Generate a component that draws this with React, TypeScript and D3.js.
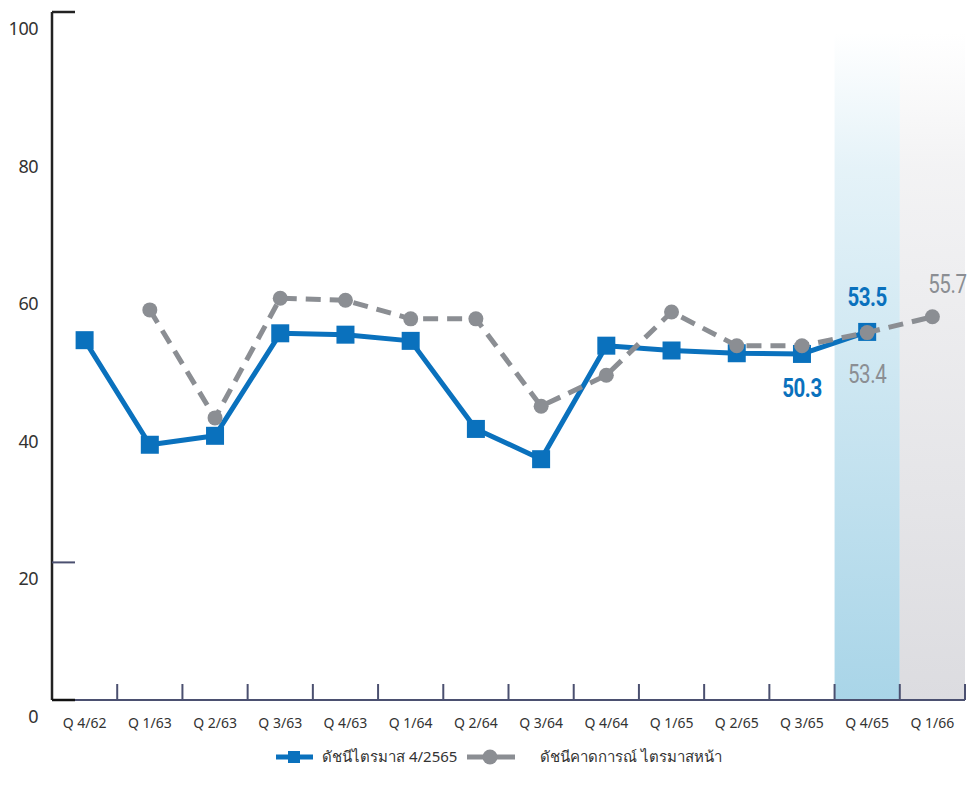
import * as d3 from 'd3';

const QUARTERS = ['Q 4/62', 'Q 1/63', 'Q 2/63', 'Q 3/63', 'Q 4/63', 'Q 1/64', 'Q 2/64', 'Q 3/64', 'Q 4/64', 'Q 1/65', 'Q 2/65', 'Q 3/65', 'Q 4/65', 'Q 1/66'];
// ดัชนีไตรมาส (actual)
const ACTUAL: (number | null)[] = [52.3, 37.1, 38.4, 53.3, 53.1, 52.2, 39.4, 35.0, 51.5, 50.8, 50.4, 50.3, 53.5, null];
// ดัชนีคาดการณ์ ไตรมาสหน้า (expected)
const EXPECTED: (number | null)[] = [null, 56.7, 41.0, 58.4, 58.1, 55.4, 55.4, 42.7, 47.2, 56.4, 51.5, 51.5, 53.4, 55.7];
const Y_TICKS = [0, 20, 40, 60, 80, 100];
const LEGEND = ['ดัชนีไตรมาส 4/2565', 'ดัชนีคาดการณ์ ไตรมาสหน้า'];

const W = 967, H = 795;
const BLUE = '#0a71bd';
const GRAY = '#8b8e93';
const AXIS = '#4b5070';
const NUM_FONT = "'Liberation Sans Narrow', 'Roboto', sans-serif";

export default function App() {
  const x = d3.scaleBand().domain(QUARTERS).range([52, 965]).padding(0);
  const y = d3.scaleLinear().domain([0, 100]).range([700, 12]);
  const cx = (q: string) => (x(q) ?? 0) + x.bandwidth() / 2;

  const actualPts = QUARTERS.map((q, i) => ({ q, v: ACTUAL[i] })).filter((d) => d.v !== null) as { q: string; v: number }[];
  const expPts = QUARTERS.map((q, i) => ({ q, v: EXPECTED[i] })).filter((d) => d.v !== null) as { q: string; v: number }[];
  const line = d3.line<{ q: string; v: number }>().x((d) => cx(d.q)).y((d) => y(d.v));

  const hlBlue = QUARTERS[12];
  const hlGray = QUARTERS[13];
  const val = (arr: (number | null)[], i: number) => arr[i] as number;

  // condensed value label
  const numLabel = (key: string, px: number, py: number, text: string, color: string, bold: boolean) => (
    <g key={key} transform={`translate(${px},${py}) scale(0.82,1)`}>
      <text textAnchor="middle" fontFamily={NUM_FONT} fontSize={25} fontWeight={bold ? 700 : 400} fill={color} letterSpacing={-0.5}>{text}</text>
    </g>
  );

  return (
    <div style={{ position: 'absolute', left: 0, top: 0, background: '#fff' }}>
      <svg width={W} height={H} style={{ display: 'block', fontFamily: "'Noto Sans', 'Open Sans', sans-serif" }}>
        <defs>
          <linearGradient id="gBlue" x1="0" y1="0" x2="0" y2="1">
            <stop offset="0" stopColor="#a9d5e8" stopOpacity={0} />
            <stop offset="0.2" stopColor="#a9d5e8" stopOpacity={0.3} />
            <stop offset="1" stopColor="#a9d5e8" stopOpacity={1} />
          </linearGradient>
          <linearGradient id="gGray" x1="0" y1="0" x2="0" y2="1">
            <stop offset="0" stopColor="#dcdce0" stopOpacity={0} />
            <stop offset="0.2" stopColor="#dcdce0" stopOpacity={0.35} />
            <stop offset="1" stopColor="#dcdce0" stopOpacity={1} />
          </linearGradient>
        </defs>

        {/* highlighted quarters */}
        <rect x={x(hlBlue)} y={y(97)} width={x.bandwidth()} height={y(0) - y(97)} fill="url(#gBlue)" />
        <rect x={x(hlGray)} y={y(97)} width={x.bandwidth()} height={y(0) - y(97)} fill="url(#gGray)" />

        {/* y axis */}
        <line x1={52} x2={52} y1={y(100)} y2={y(0)} stroke="#222" strokeWidth={2.5} />
        <line x1={52} x2={75} y1={y(100)} y2={y(100)} stroke="#222" strokeWidth={2.5} />
        <line x1={52} x2={75} y1={y(20)} y2={y(20)} stroke={AXIS} strokeWidth={2} />
        {Y_TICKS.map((t) => (
          <text key={t} x={38} y={y(t) + 23} textAnchor="end" fontSize={18} fill="#333" letterSpacing={-0.5}>{t}</text>
        ))}

        {/* x axis */}
        <line x1={52} x2={965} y1={y(0)} y2={y(0)} stroke={AXIS} strokeWidth={2} />
        <line x1={52} x2={75} y1={y(0)} y2={y(0)} stroke="#111" strokeWidth={2.5} />
        {QUARTERS.map((q) => {
          const bx = (x(q) ?? 0) + x.bandwidth();
          return <line key={q} x1={bx} x2={bx} y1={y(0)} y2={y(0) - 16} stroke={AXIS} strokeWidth={2} />;
        })}
        {QUARTERS.map((q) => (
          <text key={q} x={cx(q)} y={728} textAnchor="middle" fontSize={14} fill="#333">{q}</text>
        ))}

        {/* actual series */}
        <path d={line(actualPts) ?? ''} fill="none" stroke={BLUE} strokeWidth={5} strokeLinejoin="round" />
        {actualPts.map((d) => (
          <rect key={d.q} x={cx(d.q) - 9} y={y(d.v) - 9} width={18} height={18} fill={BLUE} />
        ))}

        {/* expected series */}
        <path d={line(expPts) ?? ''} fill="none" stroke={GRAY} strokeWidth={5} strokeDasharray="15 9" />
        {expPts.map((d) => (
          <circle key={d.q} cx={cx(d.q)} cy={y(d.v)} r={7.5} fill={GRAY} />
        ))}

        {/* value labels */}
        {numLabel('a12', cx(QUARTERS[12]), y(val(ACTUAL, 12)) - 26, val(ACTUAL, 12).toFixed(1), BLUE, true)}
        {numLabel('a11', cx(QUARTERS[11]), y(val(ACTUAL, 11)) + 43, val(ACTUAL, 11).toFixed(1), BLUE, true)}
        {numLabel('e12', cx(QUARTERS[12]), y(val(EXPECTED, 12)) + 50, val(EXPECTED, 12).toFixed(1), GRAY, false)}
        {numLabel('e13', cx(QUARTERS[13]) + 15, y(val(EXPECTED, 13)) - 24, val(EXPECTED, 13).toFixed(1), GRAY, false)}

        {/* legend */}
        <g transform="translate(0,757)">
          <line x1={276} x2={313} y1={0} y2={0} stroke={BLUE} strokeWidth={5} />
          <rect x={288} y={-6} width={12} height={12} fill={BLUE} />
          <text x={322} y={5} fontSize={15} fill="#333">{LEGEND[0]}</text>
          <line x1={467} x2={515} y1={0} y2={0} stroke={GRAY} strokeWidth={5} />
          <circle cx={490} cy={0} r={7.5} fill={GRAY} />
          <text x={540} y={5} fontSize={15} fill="#333">{LEGEND[1]}</text>
        </g>
      </svg>
    </div>
  );
}
